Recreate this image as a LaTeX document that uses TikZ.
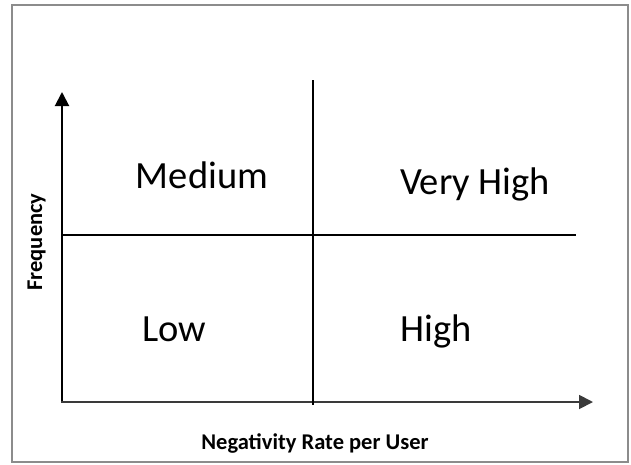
\documentclass[tikz,border=0pt]{standalone}
\usepackage{fontspec}
\setmainfont{Carlito}
\usetikzlibrary{arrows.meta}
\definecolor{framegray}{HTML}{8C8C8C}
\definecolor{axisgray}{HTML}{3A3A3A}
\begin{document}
\begin{tikzpicture}[x=1pt,y=-1pt,
  quad/.style={font=\fontsize{38.5}{40}\selectfont, anchor=base, inner sep=0pt},
  axlabel/.style={font=\fontsize{22.5}{24}\selectfont\bfseries, anchor=base, inner sep=0pt},
  divider/.style={line width=2pt, black},
  axisline/.style={line width=2pt, -{Triangle[length=14pt,width=14pt]}}]
\useasboundingbox (0,0) rectangle (631,464);
\draw[framegray, line width=2pt] (12,5) rectangle (628,462);
% coordinates
\coordinate (origin) at (62,402);
\coordinate (ytip) at (62,92);
\coordinate (xtip) at (593,402);
\coordinate (vtop) at (313,80);
\coordinate (vbot) at (313,405);
\coordinate (hleft) at (62,235);
\coordinate (hright) at (576,235);
% axes
\draw[axisline, black] (origin) -- (ytip);
\draw[axisline, axisgray, line width=1.8pt] ([xshift=-1pt]origin) -- (xtip);
% dividers
\draw[divider] (vtop) -- (vbot);
\draw[divider] (hleft) -- (hright);
% quadrant labels
\node[quad] (medium) at (202,188) {Medium};
\node[quad] (veryhigh) at (475,194) {Very High};
\node[quad] (low) at (174,341) {Low};
\node[quad] (high) at (436,341) {High};
% axis labels
\node[axlabel] (xlabel) at (315,449) {Negativity Rate per User};
\node[axlabel, rotate=90] (ylabel) at (42,242) {Frequency};
\end{tikzpicture}
\end{document}
